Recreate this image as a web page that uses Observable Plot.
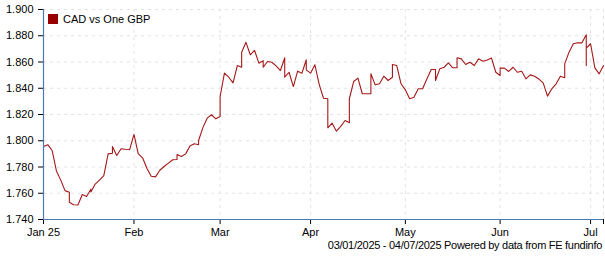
<!DOCTYPE html>
<html>
<head>
<meta charset="utf-8">
<script src="https://cdn.jsdelivr.net/npm/d3@7"></script>
<script src="https://cdn.jsdelivr.net/npm/@observablehq/plot@0.6"></script>
<style>
  html, body { margin: 0; padding: 0; background: #fff; }
  #wrap { position: relative; width: 605px; height: 260px; font-family: "Liberation Sans", Arial, sans-serif; font-size: 11px; color: #000; }
  #legend { position: absolute; left: 48px; top: 13px; display: flex; align-items: center; }
  #legend .sw { width: 10px; height: 10px; background: #990000; margin-right: 5px; }
  #caption { position: absolute; right: 3px; top: 239px; white-space: nowrap; letter-spacing: -0.28px; }
</style>
</head>
<body>
<div id="wrap">
  <div id="chart"></div>
  <div id="legend"><span class="sw"></span><span id="legendText"></span></div>
  <div id="caption"></div>
</div>
<script>
// Series name and caption
const seriesName = "CAD vs One GBP";
const captionText = "03/01/2025 - 04/07/2025 Powered by data from FE fundinfo";
const startDate = "2025-01-03";
const endDate = "2025-07-04";

// Month tick labels (first weekday of each month), plus an unlabeled end tick
const monthLabels = ["Jan 25", "Feb", "Mar", "Apr", "May", "Jun", "Jul"];

// Y-axis ticks
const yTicks = [1.74, 1.76, 1.78, 1.80, 1.82, 1.84, 1.86, 1.88, 1.90];

// CAD per GBP, one entry per weekday; arrays = several quotes on the same day
const rate = [
  1.7956, 1.797, 1.7926, 1.777, 1.770, 1.762, [1.7608, 1.7532], 1.7512, 1.751, 1.759,
  1.7575, [1.763, 1.761], 1.767, 1.770, 1.7735, 1.790, [1.7905, 1.7956], 1.7888, 1.7939, 1.7935,
  1.7933, 1.8048, 1.790, 1.787, 1.779, 1.773, 1.7725, 1.7775, 1.7804, 1.783,
  1.7855, [1.7857, 1.7895], 1.788, 1.790, 1.796, 1.7977, [1.797, 1.8002], 1.810, 1.8172, 1.8198,
  1.8167, [1.8185, 1.8337], 1.8515, 1.8484, 1.8441, 1.8573, [1.856, 1.8675], 1.875, 1.8655, 1.8688,
  1.8591, [1.861, 1.856], 1.8604, 1.8598, 1.857, 1.8535, [1.8632, 1.8484], 1.8522, 1.8413, 1.853,
  1.8515, [1.8617, 1.854], 1.8515, 1.8579, 1.843, 1.8324, [1.832, 1.8099], 1.8134, 1.8073, 1.811,
  1.8154, [1.8137, 1.832], 1.8451, 1.8477, 1.8358, 1.8358, [1.8358, 1.851], 1.8426, 1.8434, 1.8492,
  1.8459, [1.8484, 1.8581], 1.8573, 1.8434, 1.8388, 1.832, 1.8332, 1.8396, 1.8396, 1.847,
  1.8543, [1.8543, 1.8459], 1.8548, 1.856, 1.8594, 1.8556, [1.8556, 1.8632], 1.8624, 1.8581, 1.8598,
  1.8573, 1.8624, 1.8606, 1.8615, 1.863, 1.8522, [1.8497, 1.8553], 1.8553, 1.8528, 1.856,
  1.8522, 1.853, 1.8472, 1.8502, 1.8492, 1.847, 1.8441, 1.834, 1.8396, 1.8434,
  1.8492, [1.848, 1.8586], 1.8675, 1.8739, 1.8746, 1.8746, [1.8807, 1.8573, 1.8705], 1.8739, 1.8555, 1.851,
  1.8573
];

document.getElementById("legendText").textContent = seriesName;
document.getElementById("caption").textContent = captionText;

// Weekday calendar
const parse = d3.utcParse("%Y-%m-%d");
const days = d3.utcDays(parse(startDate), d3.utcDay.offset(parse(endDate), 1))
  .filter(d => d.getUTCDay() !== 0 && d.getUTCDay() !== 6);

// First weekday index of each month
const tickIdx = [];
days.forEach((d, i) => { if (i === 0 || d.getUTCMonth() !== days[i - 1].getUTCMonth()) tickIdx.push(i); });
const labelMap = new Map(tickIdx.map((t, k) => [t, monthLabels[k]]));
const lastIdx = days.length - 1;
const xTicks = [...tickIdx, lastIdx];

const rows = [];
rate.forEach((v, i) => (Array.isArray(v) ? v : [v]).forEach(r => rows.push({ i, date: days[i], r })));

const axisBlue = "#4a7ab4";
const gridColor = "#e2e2e2";

const chart = Plot.plot({
  width: 605,
  height: 260,
  marginTop: 9,
  marginLeft: 43,
  marginRight: 2,
  marginBottom: 41,
  style: { fontFamily: "'Liberation Sans', Arial, sans-serif", fontSize: "11px", background: "#fff", color: "#000" },
  x: { domain: [0, lastIdx], axis: null },
  y: { domain: [yTicks[0], yTicks[yTicks.length - 1]], axis: null },
  marks: [
    Plot.gridY(yTicks, { stroke: gridColor, strokeOpacity: 1, strokeDasharray: "3,4" }),
    Plot.gridX(xTicks, { stroke: gridColor, strokeOpacity: 1, strokeDasharray: "3,4" }),
    Plot.axisY(yTicks, { label: null, tickSize: 5, tickPadding: 5, tickFormat: d3.format(".3f"), stroke: "#000", strokeOpacity: 1 }),
    Plot.axisX(xTicks, { label: null, tickSize: 5, tickPadding: 4, tickFormat: d => labelMap.get(d) ?? "", stroke: "#000", strokeOpacity: 1 }),
    Plot.line(rows, { x: "i", y: "r", stroke: "#a51818", strokeWidth: 1.1 }),
    Plot.ruleX([0], { stroke: axisBlue, strokeWidth: 1.2 }),
    Plot.ruleY([yTicks[0]], { stroke: axisBlue, strokeWidth: 1.2 })
  ]
});
document.getElementById("chart").appendChild(chart);
</script>
</body>
</html>
